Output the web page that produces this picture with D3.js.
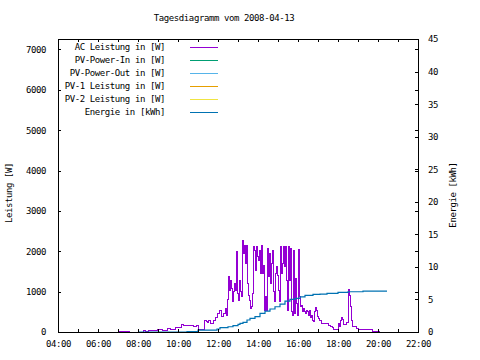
<!DOCTYPE html>
<html>
<head>
<meta charset="utf-8">
<script src="https://cdn.jsdelivr.net/npm/d3@7"></script>
<style>
  html, body { margin: 0; padding: 0; background: #fff; }
  svg text { font-family: "DejaVu Sans Mono", "Liberation Mono", monospace; font-size: 9px; letter-spacing: -0.4px; fill: #000; }
</style>
</head>
<body>
<svg id="chart" width="480" height="360"></svg>
<script>
// ---------- data ----------
const title = "Tagesdiagramm vom 2008-04-13";
const xTickLabels = ["04:00","06:00","08:00","10:00","12:00","14:00","16:00","18:00","20:00","22:00"];
const y1Ticks = [0, 1000, 2000, 3000, 4000, 5000, 6000, 7000];
const y2Ticks = [0, 5, 10, 15, 20, 25, 30, 35, 40, 45];

const seriesNames = ["AC Leistung in [W]", "PV-Power-In in [W]", "PV-Power-Out in [W]",
                     "PV-1 Leistung in [W]", "PV-2 Leistung in [W]", "Energie in [kWh]"];
const seriesColors = ["#9400d3", "#009e73", "#56b4e9", "#e69f00", "#f0e442", "#0072b2"];

const acTimes = ["07:00","07:33","08:15","08:21","08:30","08:57","09:12","09:21","09:27","09:36",
  "09:51","10:00","10:09","10:15","10:27","10:45","10:54","11:00","11:18","11:24",
  "11:27","11:30","11:36","11:45","11:51","11:57","12:03","12:09","12:15","12:21",
  "12:24","12:27","12:30","12:33","12:36","12:39","12:42","12:45","12:48","12:51",
  "12:54","12:57","13:00","13:03","13:06","13:09","13:12","13:15","13:18","13:21",
  "13:24","13:27","13:30","13:33","13:36","13:39","13:42","13:45","13:48","13:51",
  "13:54","13:57","14:00","14:03","14:06","14:09","14:12","14:15","14:18","14:21",
  "14:24","14:27","14:30","14:33","14:36","14:39","14:42","14:45","14:48","14:51",
  "14:54","14:57","15:00","15:03","15:06","15:09","15:12","15:15","15:18","15:21",
  "15:24","15:27","15:30","15:33","15:36","15:39","15:42","15:45","15:48","15:51",
  "15:54","15:57","16:00","16:03","16:06","16:09","16:12","16:15","16:18","16:21",
  "16:24","16:27","16:30","16:33","16:36","16:39","16:42","16:45","16:48","16:51",
  "16:54","16:57","17:00","17:03","17:09","17:30","17:36","17:42","17:45","18:00",
  "18:03","18:06","18:09","18:12","18:15","18:24","18:27","18:30","18:33","18:36",
  "18:39","18:42","18:48","18:54","19:00","19:30","19:36","19:42","20:06"];
const acValues = [20,0,25,10,25,50,25,40,82,50,
  106,100,190,150,173,130,173,67,297,250,
  230,297,223,280,347,470,527,396,470,594,
  420,817,1369,1040,1287,1090,750,997,1213,1040,
  1987,965,792,1287,997,873,2277,1955,2153,1708,
  2153,1213,916,792,594,644,965,2111,2030,1535,
  2111,1864,1782,2030,1460,2153,1460,1658,545,873,
  545,2079,1369,1955,1213,1708,2030,997,750,1460,
  1633,1411,1040,750,2129,1460,1708,2129,1616,2129,
  1287,545,2129,1287,2079,502,421,2030,470,1336,
  718,421,2054,873,626,668,502,594,502,470,
  545,502,421,545,371,421,297,255,502,611,
  545,379,339,297,215,173,131,116,74,215,
  148,297,364,314,198,247,230,1057,916,626,
  297,148,124,92,67,50,67,10,10];

// PV-Power-In, PV-Power-Out, PV-1, PV-2: no visible data in the reference
const pvInValues = [];
const pvOutValues = [];
const pv1Values = [];
const pv2Values = [];

const energyTimes = ["08:00","10:27","11:00","11:57","12:06","12:30","12:45","13:00","13:06","13:15",
  "13:27","13:36","13:51","14:06","14:21","14:36","14:51","15:06","15:21","15:36",
  "15:51","16:06","16:21","16:45","17:06","17:27","18:00","18:30","19:15","20:27"];
const energyValues = [0,0.05,0.3,0.46,0.66,0.81,0.97,1.18,1.33,1.49,
  1.84,2.1,2.35,2.87,3.22,3.53,3.88,4.29,4.75,5.02,
  5.17,5.41,5.63,5.78,5.83,5.94,6.09,6.18,6.29,6.29];

// ---------- chart ----------
const svg = d3.select("#chart");
const L = 58, R = 418, T = 39, B = 332;
const parse = d3.timeParse("%Y-%m-%d %H:%M");
const t = s => parse("2008-04-13 " + s);

const x = d3.scaleTime().domain([t("04:00"), t("22:00")]).range([L, R]);
const y = d3.scaleLinear().domain([0, 7260]).range([B, T]);
const y2 = d3.scaleLinear().domain([0, 45]).range([B, T]);

// title
svg.append("text").attr("x", 224).attr("y", 18).attr("text-anchor", "middle")
  .attr("dominant-baseline", "middle").text(title);

// axis titles
svg.append("text").attr("transform", "translate(9,193) rotate(-90)")
  .attr("text-anchor", "middle").attr("dominant-baseline", "middle").text("Leistung [W]");
svg.append("text").attr("transform", "translate(453,195) rotate(-90)")
  .attr("text-anchor", "middle").attr("dominant-baseline", "middle").text("Energie [kWh]");

// data lines
const lineAC = d3.line().x((d, i) => x(t(acTimes[i]))).y(d => y(d)).curve(d3.curveStepAfter);
svg.append("path").datum(acValues).attr("d", lineAC)
  .attr("fill", "none").attr("stroke", seriesColors[0]).attr("stroke-width", 1)
  .attr("shape-rendering", "crispEdges");

const lineE = d3.line().x((d, i) => x(t(energyTimes[i]))).y(d => y2(d)).curve(d3.curveStepAfter);
svg.append("path").datum(energyValues).attr("d", lineE)
  .attr("fill", "none").attr("stroke", seriesColors[5]).attr("stroke-width", 1.2);

// axes (ticks inward)
const hourTicks = d3.timeHour.every(1).range(t("04:00"), t("22:01"));
const gxB = svg.append("g").attr("transform", `translate(0,${B})`)
  .call(d3.axisBottom(x).tickValues(hourTicks).tickSizeInner(-3).tickSizeOuter(0)
    .tickFormat(d => { const s = d3.timeFormat("%H:%M")(d); return xTickLabels.includes(s) ? s : ""; })
    .tickPadding(9));
const gxT = svg.append("g").attr("transform", `translate(0,${T})`)
  .call(d3.axisTop(x).tickValues(hourTicks).tickSizeInner(-3).tickSizeOuter(0).tickFormat(""));
const gyL = svg.append("g").attr("transform", `translate(${L},0)`)
  .call(d3.axisLeft(y).tickValues(y1Ticks).tickSizeInner(-3).tickSizeOuter(0).tickPadding(12).tickFormat(d3.format("d")));
const gyR = svg.append("g").attr("transform", `translate(${R},0)`)
  .call(d3.axisRight(y).tickValues(y1Ticks).tickSizeInner(-3).tickSizeOuter(0).tickFormat(""));
const gy2 = svg.append("g").attr("transform", `translate(${R},0)`)
  .call(d3.axisRight(y2).tickValues(y2Ticks).tickSizeInner(-3).tickSizeOuter(0).tickPadding(10).tickFormat(d3.format("d")));

[gxB, gxT, gyL, gyR, gy2].forEach(g => {
  g.select(".domain").remove();
  g.selectAll("line").attr("stroke", "#000").attr("shape-rendering", "crispEdges");
  g.selectAll("text").attr("font-family", null).attr("font-size", null).attr("fill", "#000");
});
gxB.selectAll("text").attr("dy", null).attr("dominant-baseline", "middle").attr("y", 12);

// frame
svg.append("rect").attr("x", L + 0.5).attr("y", T + 0.5).attr("width", R - L).attr("height", B - T)
  .attr("fill", "none").attr("stroke", "#000").attr("shape-rendering", "crispEdges");

// legend
const legend = svg.append("g");
seriesNames.forEach((name, i) => {
  const ly = 47.5 + i * 13;
  legend.append("text").attr("x", 165).attr("y", ly).attr("text-anchor", "end")
    .attr("dominant-baseline", "middle").text(name);
  legend.append("line").attr("x1", 190).attr("x2", 218).attr("y1", ly).attr("y2", ly)
    .attr("stroke", seriesColors[i]).attr("stroke-width", 1);
});
</script>
</body>
</html>
